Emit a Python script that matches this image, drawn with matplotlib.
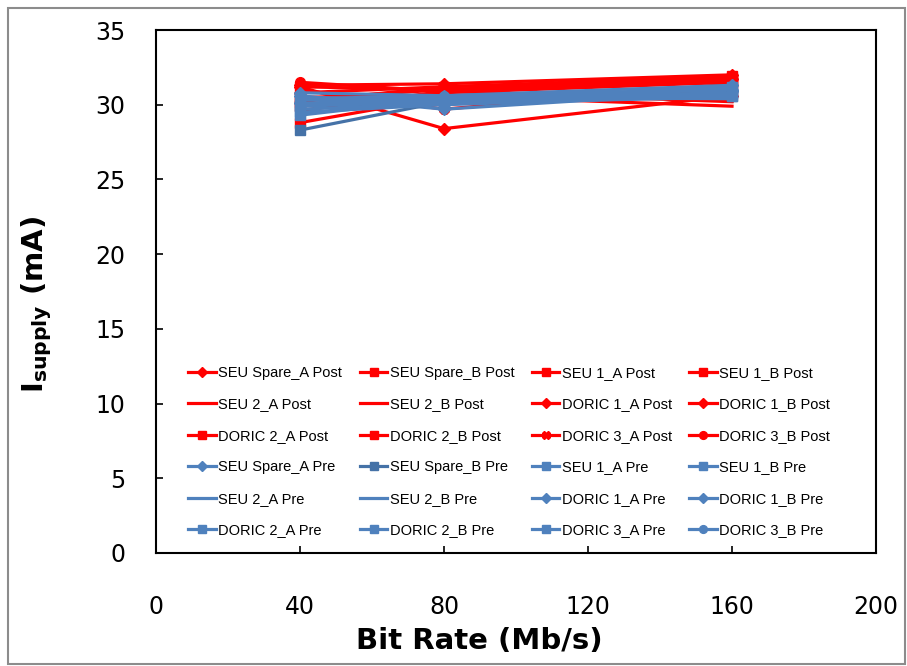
import matplotlib
matplotlib.use('Agg')
import matplotlib.pyplot as plt
from matplotlib.patches import Rectangle

# Supply current vs. bit rate, before (Pre) and after (Post) irradiation
bit_rate = [40, 80, 160]

post_labels = ['SEU Spare_A Post', 'SEU Spare_B Post', 'SEU 1_A Post', 'SEU 1_B Post',
               'SEU 2_A Post', 'SEU 2_B Post', 'DORIC 1_A Post', 'DORIC 1_B Post',
               'DORIC 2_A Post', 'DORIC 2_B Post', 'DORIC 3_A Post', 'DORIC 3_B Post']
post_values = [
    [31.2, 28.4, 30.6],
    [31.2, 31.0, 31.8],
    [28.8, 30.5, 31.0],
    [30.2, 31.2, 31.9],
    [29.6, 30.9, 30.2],
    [30.5, 30.6, 29.9],
    [31.3, 31.4, 32.0],
    [30.8, 31.2, 31.7],
    [29.9, 30.8, 31.5],
    [30.4, 31.0, 31.6],
    [31.0, 29.7, 31.4],
    [31.5, 30.9, 31.8],
]

pre_labels = ['SEU Spare_A Pre', 'SEU Spare_B Pre', 'SEU 1_A Pre', 'SEU 1_B Pre',
              'SEU 2_A Pre', 'SEU 2_B Pre', 'DORIC 1_A Pre', 'DORIC 1_B Pre',
              'DORIC 2_A Pre', 'DORIC 2_B Pre', 'DORIC 3_A Pre', 'DORIC 3_B Pre']
pre_values = [
    [30.6, 29.7, 30.9],
    [28.3, 30.2, 30.6],
    [29.3, 30.4, 30.8],
    [30.0, 30.3, 31.2],
    [29.7, 30.1, 30.5],
    [30.3, 30.5, 30.4],
    [30.8, 30.6, 31.3],
    [30.1, 30.4, 31.0],
    [29.9, 30.2, 30.7],
    [30.5, 30.3, 31.1],
    [29.5, 30.0, 30.6],
    [30.4, 30.6, 31.0],
]

markers = ['D', 's', 's', 's', '', '', 'D', 'D', 's', 's', 'X', 'o']
msizes = [6, 7, 7, 7, 0, 0, 6, 6, 7, 7, 7, 7]

fig = plt.figure(figsize=(9.07, 6.66), dpi=100)
ax = fig.add_axes([156/907, 1 - 553/666, 720/907, 523/666])

for lab, vals, m, ms in zip(post_labels, post_values, markers, msizes):
    ax.plot(bit_rate, vals, color='#FF0000', lw=2.3, marker=m, ms=ms, label=lab)

for i, (lab, vals, m, ms) in enumerate(zip(pre_labels, pre_values, markers, msizes)):
    c = '#4572A7' if i == 1 else '#4F81BD'
    mk = 's' if m == 'X' else m
    ax.plot(bit_rate, vals, color=c, lw=2.3, marker=mk, ms=ms, label=lab)

ax.set_xlim(0, 200)
ax.set_ylim(0, 35)
ax.set_xticks([0, 40, 80, 120, 160, 200])
ax.set_yticks(range(0, 36, 5))
ax.tick_params(direction='in', length=5, width=1.2, labelsize=17)
ax.tick_params(axis='x', pad=30)
ax.tick_params(axis='y', pad=22)
for s in ax.spines.values():
    s.set_linewidth(1.5)

ax.set_xlabel('Bit Rate (Mb/s)', fontsize=21, fontweight='bold')
ax.set_ylabel(r'$\mathbf{I_{supply}}$ (mA)', fontsize=21, fontweight='bold')
ax.xaxis.set_label_coords(0.449, -0.1415)
ax.yaxis.set_label_coords(-0.141, 0.476)

# legend filled row by row, four entries per row
handles, labels = ax.get_legend_handles_labels()
ncol, nrow = 4, 6
order = [r * ncol + c for c in range(ncol) for r in range(nrow)]
ax.legend([handles[k] for k in order], [labels[k] for k in order],
          ncol=ncol, loc='upper left', bbox_to_anchor=(0.035, 0.372), frameon=False,
          prop={'family': 'Liberation Sans', 'size': 10.5},
          handlelength=1.9, handletextpad=0.15, columnspacing=1.2,
          labelspacing=1.2, borderpad=0, markerscale=0.8)

# grey outline around the whole figure
fig.patches.append(Rectangle((8/907, 2/666), 897/907, 656/666, transform=fig.transFigure,
                             fill=False, ec='#8C8C8C', lw=1.5))

fig.savefig('out.png', dpi=100)
